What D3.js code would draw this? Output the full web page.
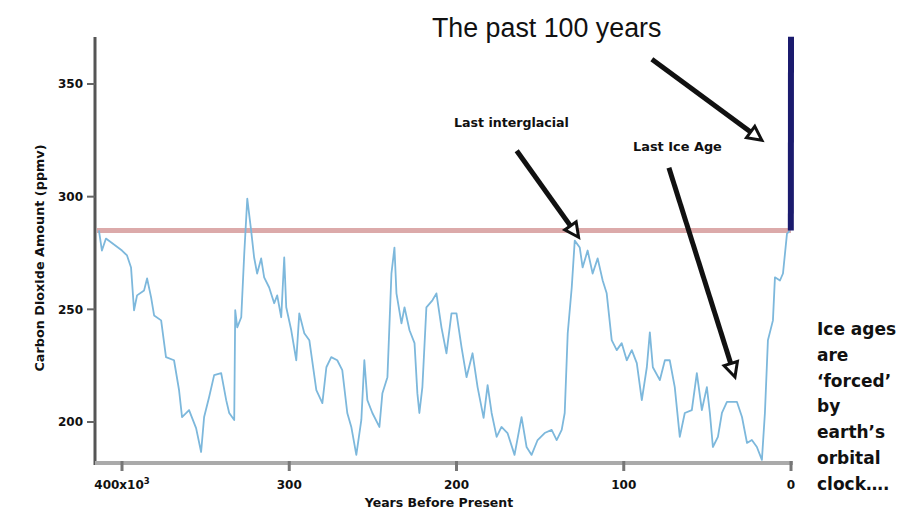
<!DOCTYPE html>
<html>
<head>
<meta charset="utf-8">
<script src="https://cdn.jsdelivr.net/npm/d3@7"></script>
<style>
  html, body { margin: 0; padding: 0; background: #fff; }
  svg { display: block; }
</style>
</head>
<body>
<svg id="chart" width="911" height="515"></svg>
<script>
// Vostok ice-core CO2 record (thousand years before present, ppmv)
const iceAge = [413.8,412.0,409.6,400.0,397.0,394.6,392.8,391.0,386.8,385.0,
  382.6,380.8,376.6,373.7,368.9,365.9,364.1,359.9,355.7,352.7,
  350.9,347.9,344.9,340.7,337.7,335.9,332.9,332.3,331.1,328.7,
  326.9,325.1,322.8,321.0,319.2,316.8,315.0,312.0,309.0,307.2,
  304.8,303.0,301.8,298.8,295.8,294.0,291.0,288.0,283.8,280.2,
  277.8,274.9,271.3,268.3,265.3,262.9,259.9,256.9,255.1,253.3,
  250.3,246.1,244.3,241.3,238.9,237.1,235.9,232.9,231.1,228.1,
  225.1,223.4,222.2,220.4,218.0,214.4,212.0,209.0,206.0,203.0,
  200.0,197.0,194.0,190.4,187.4,183.8,181.4,179.0,176.0,173.1,
  169.5,165.3,161.1,158.1,155.1,151.5,147.3,143.1,140.1,137.1,
  135.3,133.5,131.1,129.3,126.3,124.6,121.6,118.6,115.6,112.6,
  110.2,107.2,104.2,101.2,98.2,95.2,92.2,89.2,86.2,84.4,
  82.6,78.4,75.4,72.5,69.5,66.5,63.5,59.3,56.3,53.3,
  50.3,48.5,46.7,43.7,41.3,38.3,32.3,29.3,26.3,23.4,
  20.4,17.4,15.6,13.8,10.8,9.6,6.6,4.8,2.4,0.6];
const iceCO2 = [285.0,276.1,281.4,276.1,273.9,268.6,249.6,256.2,258.4,263.7,
  255.3,247.3,245.1,228.8,227.4,214.2,202.2,205.3,197.3,186.7,
  202.2,211.1,220.8,221.7,209.7,204.0,200.9,249.6,242.0,246.5,
  274.8,299.1,285.0,273.0,265.9,272.6,264.2,259.7,252.7,256.2,
  246.5,273.0,250.9,240.7,227.4,248.2,239.4,236.3,214.2,208.4,
  224.3,228.8,227.4,223.0,204.0,197.8,185.4,200.9,227.4,209.7,
  204.0,197.8,212.8,219.9,265.9,277.4,257.1,243.8,250.9,240.7,
  235.0,212.8,204.0,215.5,250.9,254.0,257.1,242.0,230.5,248.2,
  248.2,233.2,219.9,230.5,215.5,201.8,216.4,204.0,193.4,197.8,
  195.1,185.4,202.2,188.9,185.4,192.0,195.1,196.5,192.0,196.5,
  204.0,239.4,259.7,280.5,277.4,268.6,276.1,265.9,272.6,262.8,
  257.1,236.3,231.9,235.0,227.4,231.9,226.1,209.7,224.3,239.8,
  224.3,218.6,227.4,227.4,215.5,193.4,204.0,205.3,221.7,205.3,
  215.5,204.0,188.9,193.4,204.0,208.9,208.9,202.2,190.7,192.0,
  188.9,183.2,204.0,236.3,245.1,264.2,262.8,265.9,283.6,285.0];

// Instrumental era: the past 100 years
const modernAge = [0.1, 0.0];
const modernCO2 = [285, 371];

// Reference level across the whole record
const referenceCO2 = 285;

const yTicks = [200, 250, 300, 350];
const xTicks = [400, 300, 200, 100, 0];
const xTickLabels = ["400x10", "300", "200", "100", "0"];

const sideNote = ["Ice ages", "are", "\u2018forced\u2019", "by", "earth\u2019s", "orbital", "clock\u2026."];

// Annotations: label, tail and tip in data units (kyr BP, ppmv)
const notes = [
  { label: "Last interglacial", tail: [164, 320.4], tip: [127, 282] },
  { label: "Last Ice Age", tail: [73, 312.8], tip: [33.5, 220] },
  { label: "The past 100 years", tail: [83.2, 361], tip: [17.4, 325] }
];

const svg = d3.select("#chart");
const x = d3.scaleLinear().domain([400, 0]).range([122, 791]);
const y = d3.scaleLinear().domain([200, 350]).range([422, 84]);
const xLeft = 95, yBottom = 463, yTop = 37;
const labelFont = "'DejaVu Sans', Verdana, sans-serif";

// Reference level line
svg.append("line")
  .attr("x1", xLeft + 2).attr("x2", x(0))
  .attr("y1", y(referenceCO2)).attr("y2", y(referenceCO2))
  .attr("stroke", "#dcaaaa").attr("stroke-width", 5);

// Ice-core record
const line = d3.line().x((d, i) => x(iceAge[i])).y(d => y(d));
svg.append("path")
  .attr("d", line(iceCO2))
  .attr("fill", "none")
  .attr("stroke", "#7db8dc")
  .attr("stroke-width", 1.8)
  .attr("stroke-linejoin", "round");

// Past century
const modernLine = d3.line().x((d, i) => x(modernAge[i])).y(d => y(d));
svg.append("path")
  .attr("d", modernLine(modernCO2))
  .attr("fill", "none")
  .attr("stroke", "#1b1b6e")
  .attr("stroke-width", 6);

// Y axis
const yAxis = svg.append("g");
yAxis.append("line")
  .attr("x1", xLeft).attr("x2", xLeft).attr("y1", yTop).attr("y2", yBottom + 2)
  .attr("stroke", "#555").attr("stroke-width", 3);
yAxis.selectAll(".ytick").data(yTicks).enter().append("line")
  .attr("x1", xLeft - 8).attr("x2", xLeft)
  .attr("y1", d => y(d)).attr("y2", d => y(d))
  .attr("stroke", "#666").attr("stroke-width", 2);
yAxis.selectAll(".ylab").data(yTicks).enter().append("text")
  .attr("x", xLeft - 12).attr("y", d => y(d))
  .attr("dy", "0.36em")
  .attr("text-anchor", "end")
  .attr("font-family", labelFont).attr("font-weight", "bold")
  .attr("font-size", 12).attr("fill", "#111")
  .text(d => d);
svg.append("text")
  .attr("transform", "translate(44,258) rotate(-90)")
  .attr("text-anchor", "middle")
  .attr("font-family", labelFont).attr("font-weight", "bold")
  .attr("font-size", 12.8).attr("fill", "#111")
  .text("Carbon Dioxide Amount (ppmv)");

// X axis
const xAxis = svg.append("g");
xAxis.append("line")
  .attr("x1", xLeft).attr("x2", x(0) + 2).attr("y1", yBottom).attr("y2", yBottom)
  .attr("stroke", "#aaa").attr("stroke-width", 4);
xAxis.selectAll(".xtick").data(xTicks).enter().append("line")
  .attr("x1", d => x(d)).attr("x2", d => x(d))
  .attr("y1", yBottom - 2).attr("y2", yBottom + 8)
  .attr("stroke", "#777").attr("stroke-width", 3);
const xl = xAxis.selectAll(".xlab").data(xTicks).enter().append("text")
  .attr("x", d => x(d)).attr("y", 489)
  .attr("text-anchor", "middle")
  .attr("font-family", labelFont).attr("font-weight", "bold")
  .attr("font-size", 12).attr("fill", "#111");
xl.append("tspan").text((d, i) => xTickLabels[i]);
xl.filter(d => d === 400).append("tspan")
  .attr("dy", -5).attr("font-size", 8.5).text("3");
svg.append("text")
  .attr("x", 439).attr("y", 507)
  .attr("text-anchor", "middle")
  .attr("font-family", labelFont).attr("font-weight", "bold")
  .attr("font-size", 12.5).attr("fill", "#111")
  .text("Years Before Present");

// Title
svg.append("text")
  .attr("x", 432).attr("y", 37)
  .attr("font-family", "'Liberation Sans', Arial, sans-serif")
  .attr("font-size", 26.8).attr("fill", "#111")
  .text("The past 100 years");

// Annotation labels
svg.append("text")
  .attr("x", 454).attr("y", 127)
  .attr("font-family", labelFont).attr("font-weight", "bold")
  .attr("font-size", 12.6).attr("fill", "#111")
  .text(notes[0].label);
svg.append("text")
  .attr("x", 633).attr("y", 151)
  .attr("font-family", labelFont).attr("font-weight", "bold")
  .attr("font-size", 12.9).attr("fill", "#111")
  .text(notes[1].label);

// Arrows with open triangular heads
notes.forEach(n => {
  const x0 = x(n.tail[0]), y0 = y(n.tail[1]);
  const x1 = x(n.tip[0]), y1 = y(n.tip[1]);
  const ang = Math.atan2(y1 - y0, x1 - x0);
  const headLen = 14, headHalf = 7;
  const bx = x1 - headLen * Math.cos(ang), by = y1 - headLen * Math.sin(ang);
  svg.append("line")
    .attr("x1", x0).attr("y1", y0).attr("x2", bx).attr("y2", by)
    .attr("stroke", "#111").attr("stroke-width", 5);
  const px = -Math.sin(ang), py = Math.cos(ang);
  svg.append("path")
    .attr("d", `M${x1},${y1}L${bx + px * headHalf},${by + py * headHalf}L${bx - px * headHalf},${by - py * headHalf}Z`)
    .attr("fill", "#fff").attr("stroke", "#111").attr("stroke-width", 3)
    .attr("stroke-linejoin", "miter");
});

// Side note
svg.append("g").selectAll("text").data(sideNote).enter().append("text")
  .attr("x", 817).attr("y", (d, i) => 335 + i * 25.8)
  .attr("font-family", labelFont).attr("font-weight", "bold")
  .attr("font-size", 17).attr("fill", "#111")
  .text(d => d);
</script>
</body>
</html>
